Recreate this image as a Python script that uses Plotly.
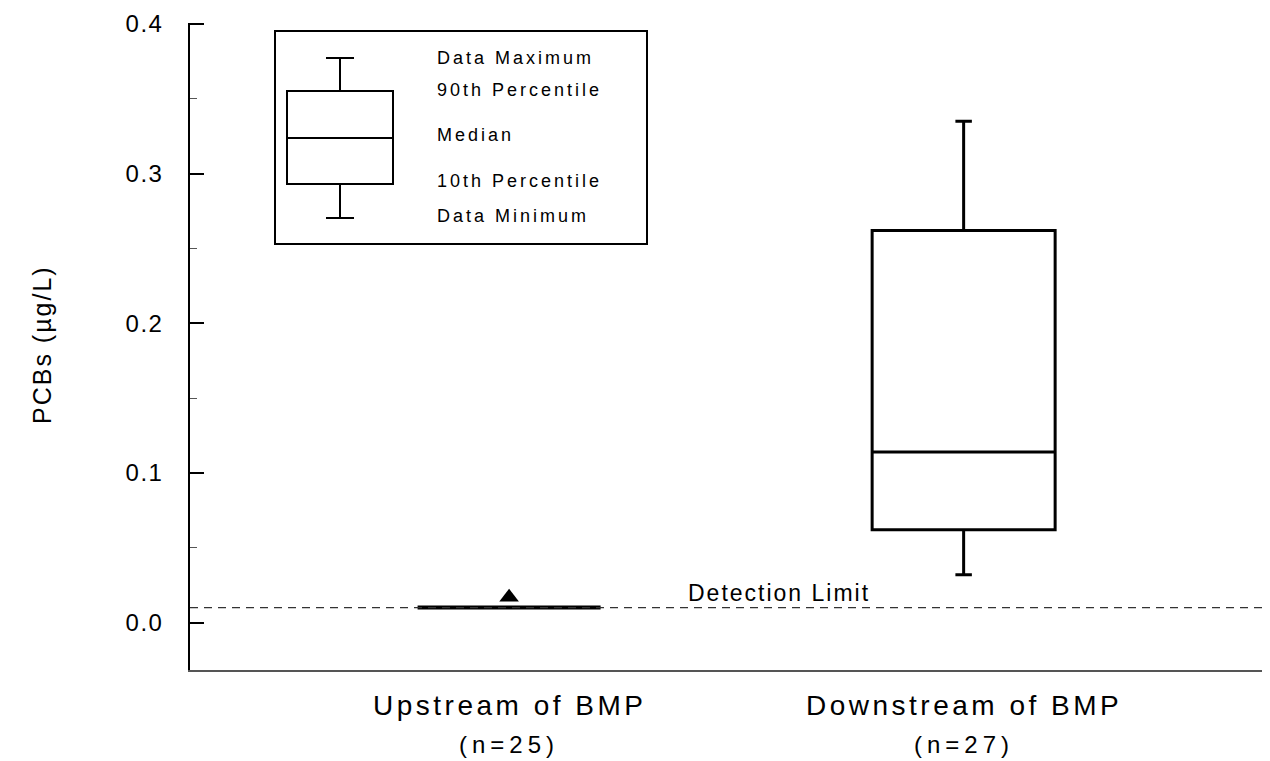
import plotly.graph_objects as go

# box statistics (box = 10th-90th percentile, whiskers = min/max)
categories = ["Upstream of BMP", "Downstream of BMP"]
sample_sizes = ["(n=25)", "(n=27)"]
data_min = [0.010, 0.032]
pct10 = [0.010, 0.062]
median = [0.010, 0.114]
pct90 = [0.010, 0.262]
data_max = [0.010, 0.335]

# single triangle marker above the upstream box
marker_cat = ["Upstream of BMP"]
marker_val = [0.017]

detection_limit = 0.01
y_ticks = [0.0, 0.1, 0.2, 0.3, 0.4]
legend_labels = ["Data Maximum", "90th Percentile", "Median", "10th Percentile", "Data Minimum"]

FONT = "Arial, Liberation Sans, sans-serif"

# the page body adds an 8px margin, so the figure is sized to fit the window
OFF = 8
W, H = 1270 - OFF, 761 - OFF
# plot area in screen pixels
L, R, T, B = 190, 1270, 23, 670
Y_RANGE = [-0.0317, 0.4007]


def px(x):
    return (x - L) / (R - L)


def py(y):
    return (B - y) / (B - T)


def spaced(text, sp):
    return f'<span style="letter-spacing:{sp}px">{text}</span>'


fig = go.Figure()

for i, lw in enumerate([4, 3]):
    fig.add_trace(
        go.Box(
            x=[categories[i]],
            q1=[pct10[i]],
            median=[median[i]],
            q3=[pct90[i]],
            lowerfence=[data_min[i]],
            upperfence=[data_max[i]],
            width=0.4026,
            whiskerwidth=0.09,
            line=dict(color="black", width=lw),
            fillcolor="rgba(0,0,0,0)",
            boxpoints=False,
            showlegend=False,
        )
    )

fig.add_trace(
    go.Scatter(
        x=marker_cat,
        y=marker_val,
        mode="markers",
        marker=dict(symbol="triangle-up", size=17, color="black"),
        showlegend=False,
    )
)

shapes = []
# detection limit
shapes.append(dict(type="line", xref="paper", yref="y", x0=0, x1=1,
                   y0=detection_limit, y1=detection_limit,
                   line=dict(color="#333333", width=1.2, dash="8px,6px")))

# legend key frame
shapes.append(dict(type="rect", xref="paper", yref="paper",
                   x0=px(275), x1=px(647), y0=py(244), y1=py(31),
                   line=dict(color="black", width=2)))
# legend key mini box
bx0, bx1 = 287, 393
bxc = (bx0 + bx1) / 2
k_max, k_90, k_med, k_10, k_min = 58, 91, 138, 184, 218
shapes.append(dict(type="rect", xref="paper", yref="paper",
                   x0=px(bx0), x1=px(bx1), y0=py(k_10), y1=py(k_90),
                   line=dict(color="black", width=2)))
shapes.append(dict(type="line", xref="paper", yref="paper",
                   x0=px(bx0), x1=px(bx1), y0=py(k_med), y1=py(k_med),
                   line=dict(color="black", width=2)))
for y0, y1 in [(k_max, k_90), (k_10, k_min)]:
    shapes.append(dict(type="line", xref="paper", yref="paper",
                       x0=px(bxc), x1=px(bxc), y0=py(y0), y1=py(y1),
                       line=dict(color="black", width=2)))
for yc in [k_max, k_min]:
    shapes.append(dict(type="line", xref="paper", yref="paper",
                       x0=px(bxc - 14), x1=px(bxc + 14), y0=py(yc), y1=py(yc),
                       line=dict(color="black", width=2)))

annotations = []
for lab, yc in zip(legend_labels, [58, 90, 135, 181, 216]):
    annotations.append(dict(text=spaced(lab, 3), xref="paper", yref="paper",
                            x=px(435), y=py(yc), xanchor="left", yanchor="middle",
                            showarrow=False,
                            font=dict(family=FONT, size=18, color="black")))

annotations.append(dict(text=spaced("Detection Limit", 2), xref="paper", yref="y",
                        x=px(686), y=detection_limit, xanchor="left", yanchor="bottom",
                        yshift=0, showarrow=False,
                        font=dict(family=FONT, size=23, color="black")))

for cat, n in zip(categories, sample_sizes):
    annotations.append(dict(text=spaced(cat, 3.5), xref="x", yref="paper", x=cat, y=py(705),
                            xanchor="center", yanchor="middle", showarrow=False,
                            font=dict(family=FONT, size=28, color="black")))
    annotations.append(dict(text=spaced(n, 5), xref="x", yref="paper", x=cat, y=py(744),
                            xanchor="center", yanchor="middle", showarrow=False,
                            font=dict(family=FONT, size=24, color="black")))

annotations.append(dict(text=spaced("PCBs (µg/L)", 2), xref="paper", yref="paper",
                        x=px(42), y=py(345), textangle=-90,
                        xanchor="center", yanchor="middle", showarrow=False,
                        font=dict(family=FONT, size=25, color="black")))

fig.update_layout(
    width=W,
    height=H,
    plot_bgcolor="white",
    paper_bgcolor="white",
    margin=dict(l=L - OFF, r=0, t=T - OFF, b=H - (B - OFF)),
    shapes=shapes,
    annotations=annotations,
    xaxis=dict(
        type="category",
        categoryorder="array",
        categoryarray=categories,
        range=[-0.702, 1.674],
        showline=True,
        linecolor="#555555",
        linewidth=1.5,
        showticklabels=False,
        ticks="",
        showgrid=False,
        zeroline=False,
        automargin=False,
    ),
    yaxis=dict(
        range=Y_RANGE,
        tickvals=y_ticks,
        ticktext=[spaced(f"{v:.1f}", 1.5) for v in y_ticks],
        ticks="inside",
        ticklen=14,
        tickwidth=1.5,
        tickcolor="black",
        minor=dict(ticks="inside", ticklen=7, dtick=0.05, tickwidth=1, tickcolor="#555555",
                   showgrid=False),
        ticklabelstandoff=20,
        ticklabeloverflow="allow",
        automargin=False,
        tickfont=dict(family=FONT, size=24, color="black"),
        showline=True,
        linecolor="black",
        linewidth=1.5,
        showgrid=False,
        zeroline=False,
    ),
)

fig.write_html("out.html")
